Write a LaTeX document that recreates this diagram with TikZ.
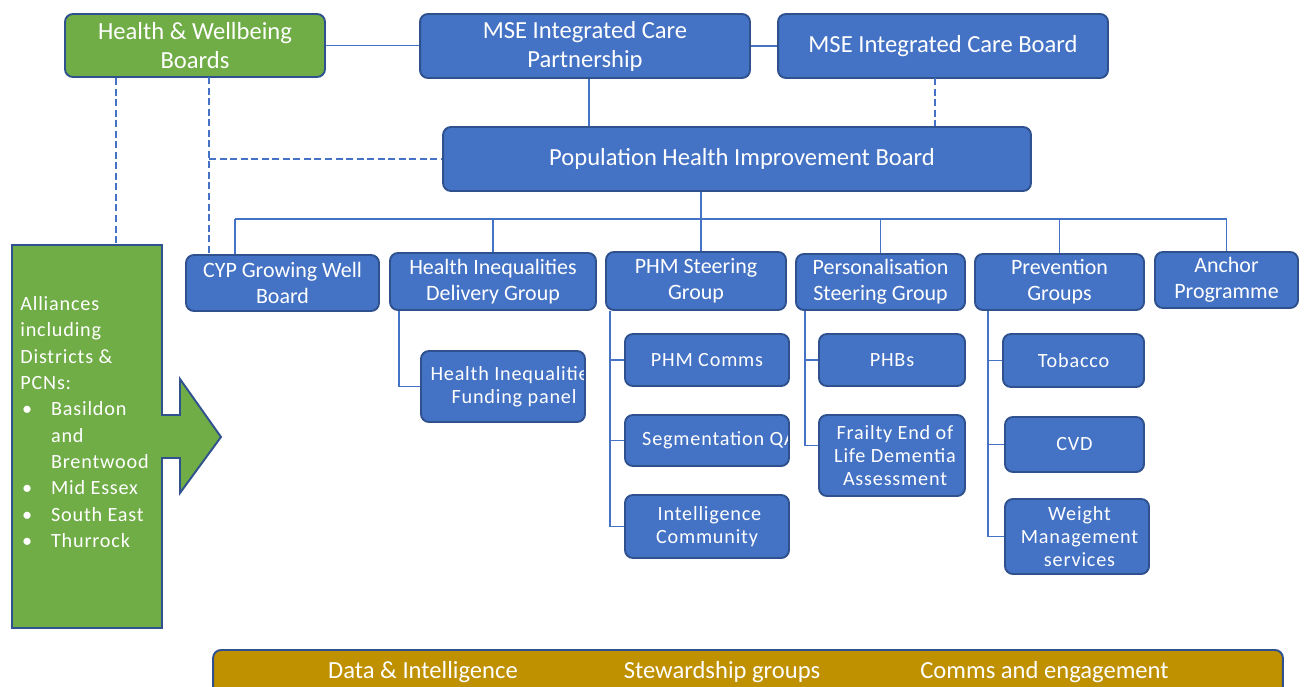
\documentclass[tikz,border=0pt]{standalone}
\usepackage{fontspec}
\setmainfont{Carlito}
\newfontfamily\spacedfont[LetterSpace=4]{Carlito}
\definecolor{boxblue}{HTML}{4472C4}
\definecolor{edgeblue}{HTML}{2F528F}
\definecolor{boardgreen}{HTML}{70AD47}
\definecolor{bargold}{HTML}{BF9000}
\newcommand{\allbullet}{\makebox[17.5pt][l]{\hspace{1pt}\textbullet}}
\newcommand{\allindent}{\hspace*{17.5pt}}
\tikzset{
  board/.style={draw=edgeblue, fill=boxblue, line width=1.1pt, rounded corners=4.5pt,
    text=white, align=center, inner sep=0pt, font=\fontsize{14}{16.5}\selectfont},
  group/.style={board, font=\fontsize{12.5}{14.8}\selectfont},
  subgroup/.style={board, font=\spacedfont\fontsize{11.5}{13}\selectfont},
  cliptext/.style={draw=none, fill=none, text=white, align=center, inner sep=0pt,
    font=\spacedfont\fontsize{11.5}{13}\selectfont},
  alltext/.style={text=white, align=left, inner sep=0pt,
    font=\spacedfont\fontsize{11.5}{15}\selectfont},
  bartext/.style={text=white, inner sep=0pt, font=\fontsize{14}{16}\selectfont},
  link/.style={draw=boxblue, line width=1pt},
  dlink/.style={link, dash pattern=on 4pt off 2pt},
}

\begin{document}
\begin{tikzpicture}[x=0.02cm, y=-0.02cm]
    \useasboundingbox (0,0) rectangle (1304,686);

    % Верхний ряд
    \node[board, fill=boardgreen, minimum width=5.2cm, minimum height=1.26cm] (hwb) at (195,45.5) {Health \& Wellbeing\\Boards};
    \node[board, minimum width=6.6cm, minimum height=1.28cm] (icp) at (585,46) {MSE Integrated Care\\Partnership};
    \node[board, minimum width=6.6cm, minimum height=1.28cm] (icb) at (943,46) {MSE Integrated Care Board};
    \node[board, minimum width=11.76cm, minimum height=1.28cm] (phib) at (737,159) {\hspace*{0.2cm}Population Health Improvement Board};

    % Второй уровень
    \node[group, minimum width=3.86cm, minimum height=1.12cm] (cyp) at (282.5,283) {CYP Growing Well\\Board};
    \node[group, minimum width=4.12cm, minimum height=1.14cm] (hidg) at (493,281.5) {Health Inequalities\\Delivery Group};
    \node[group, minimum width=3.6cm, minimum height=1.16cm] (phm) at (696,281) {PHM Steering\\Group};
    \node[group, minimum width=3.38cm, minimum height=1.12cm] (pers) at (880.5,282) {Personalisation\\Steering Group};
    \node[group, minimum width=3.38cm, minimum height=1.12cm] (prev) at (1059.5,282) {Prevention\\Groups};
    \node[group, minimum width=2.86cm, minimum height=1.12cm] (anchor) at (1226.5,280) {Anchor\\Programme};

    % Третий уровень
    \node[subgroup, minimum width=3.28cm, minimum height=1.42cm,
      path picture={\node[cliptext] at ([xshift=0.22cm]path picture bounding box.center) {Health Inequalities\\Funding panel};}] (hifp) at (503,386.5) {};
    \node[subgroup, minimum width=3.28cm, minimum height=1.04cm] (comms) at (707,360) {PHM Comms};
    \node[subgroup, minimum width=3.28cm, minimum height=1.02cm,
      path picture={\node[cliptext] at ([xshift=0.24cm]path picture bounding box.center) {Segmentation QA};}] (seg) at (707,440.5) {};
    \node[subgroup, minimum width=3.28cm, minimum height=1.26cm] (intel) at (707,526.5) {\hspace*{0.1cm}Intelligence\\Community};
    \node[subgroup, minimum width=2.92cm, minimum height=1.04cm] (phbs) at (892,360) {PHBs};
    \node[subgroup, minimum width=2.92cm, minimum height=1.62cm] (frail) at (892,455.5) {\hspace*{0.12cm}Frailty End of\\\hspace*{0.12cm}Life Dementia\\\hspace*{0.12cm}Assessment};
    \node[subgroup, minimum width=2.82cm, minimum height=1.06cm] (tob) at (1073.5,360.5) {Tobacco};
    \node[subgroup, minimum width=2.78cm, minimum height=1.1cm] (cvd) at (1074.5,444.5) {CVD};
    \node[subgroup, minimum width=2.88cm, minimum height=1.5cm] (weight) at (1077,536.5) {\hspace*{0.1cm}Weight\\\hspace*{0.1cm}Management\\\hspace*{0.1cm}services};

    % Альянсы (стрелка)
    \filldraw[fill=boardgreen, draw=edgeblue, line width=1.1pt] (12,245) -- (162,245) -- (162,415) -- (180,415) -- (180,379)
      -- (221,437) -- (180,493) -- (180,458) -- (162,458) -- (162,628) -- (12,628) -- cycle;
    \coordinate (alltop) at (116,245);
    \node[alltext, anchor=north west] (all) at (20,296) {Alliances\\including\\Districts \&\\PCNs:\\
      \allbullet Basildon\\\allindent and\\\allindent Brentwood\\\allbullet Mid Essex\\\allbullet South East\\\allbullet Thurrock};

    % Нижняя полоса
    \node[board, fill=bargold, minimum width=21.4cm, minimum height=1.0cm] (bar) at (748,675) {};
    \node[bartext] (data) at (423,672) {Data \& Intelligence};
    \node[bartext] (steward) at (722,672) {Stewardship groups};
    \node[bartext] (engage) at (1044.5,672) {Comms and engagement};

    % Связи верхнего уровня
    \draw[link] (hwb.east) -- (hwb.east -| icp.west);
    \draw[link] (icp.east) -- (icp.east -| icb.west);
    \draw[link] ([xshift=0.08cm]icp.south) -- ([xshift=0.08cm]icp.south |- phib.north);
    \coordinate (icbfoot) at (935,78);
    \draw[dlink] (icbfoot) -- (icbfoot |- phib.north);

    % Пунктир от HWB
    \coordinate (hwbfoot) at (209,77);
    \draw[dlink] (hwb.south -| alltop) -- (alltop);
    \draw[dlink] (hwbfoot) -- (hwbfoot |- cyp.north);
    \draw[dlink] (phib.west -| hwbfoot) -- (phib.west);

    % Шина
    \coordinate (busL) at (235,219);
    \draw[link] ([xshift=0.1cm]phib.south -| phm.north) -- ([xshift=0.1cm]phm.north);
    \draw[link] (busL) -- (busL |- cyp.north);
    \draw[link] (busL) -- (busL -| anchor.north);
    \foreach \g in {hidg,pers,prev,anchor}
        \draw[link] (\g.north |- busL) -- (\g.north);

    % Ветви
    \draw[link] ([xshift=0.2cm]hidg.south west) |- (hifp.west);
    \foreach \c in {comms,seg,intel}
        \draw[link] ([xshift=0.1cm]phm.south west) |- (\c.west);
    \draw[link] ([xshift=0.2cm]pers.south west) |- (phbs.west);
    \draw[link] ([xshift=0.2cm]pers.south west) |- ([yshift=0.2cm]frail.west);
    \foreach \c in {tob,cvd,weight}
        \draw[link] ([xshift=0.28cm]prev.south west) |- (\c.west);
\end{tikzpicture}
\end{document}
